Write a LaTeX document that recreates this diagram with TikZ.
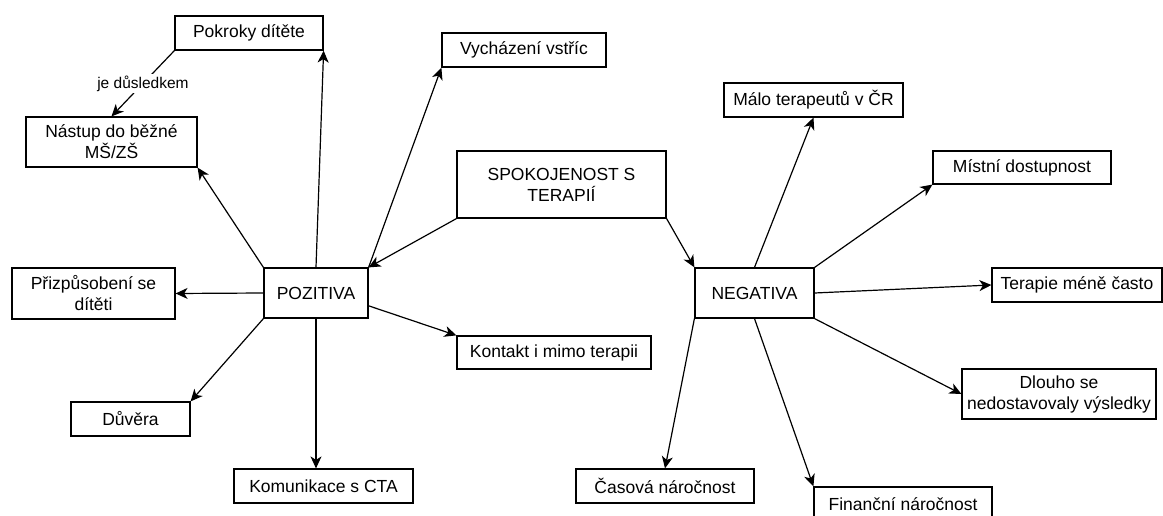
\documentclass[tikz,border=0pt]{standalone}
\usepackage{fontspec}
\setmainfont{Liberation Sans}
\usetikzlibrary{arrows.meta,calc}
\begin{document}
\begin{tikzpicture}[x=1pt,y=-1pt,
  box/.style={draw, line width=1.2pt, inner sep=0pt, align=center,
    font=\fontsize{17.5}{21}\selectfont},
  conn/.style={line width=1.2pt, -{Stealth[length=12pt,width=11pt,inset=3.5pt]}},
  lbl/.style={fill=white, inner sep=1.5pt, font=\fontsize{15.5}{18}\selectfont}]
\useasboundingbox (0,0) rectangle (1163,516);
\clip (0,0) rectangle (1163,516);
% nodes
\node[box, minimum width=148pt, minimum height=34pt] (pok) at (249,33) {Pokroky dítěte};
\node[box, minimum width=171pt, minimum height=50pt] (nas) at (111.5,142) {Nástup do běžné\\MŠ/ZŠ};
\node[box, minimum width=164pt, minimum height=34pt] (vych) at (524,50) {Vycházení vstříc};
\node[box, minimum width=209pt, minimum height=67pt] (spok) at (561.5,184.5) {SPOKOJENOST S\\TERAPIÍ};
\node[box, minimum width=179pt, minimum height=34pt] (malo) at (813.5,100) {Málo terapeutů v ČR};
\node[box, minimum width=178pt, minimum height=33pt] (mis) at (1022,167.5) {Místní dostupnost};
\node[box, minimum width=170pt, minimum height=34pt] (ter) at (1077,285) {Terapie méně často};
\node[box, minimum width=119pt, minimum height=50pt] (neg) at (754.5,293) {NEGATIVA};
\node[box, minimum width=194pt, minimum height=50pt] (dl) at (1059,394) {Dlouho se\\nedostavovaly výsledky};
\node[box, minimum width=178pt, minimum height=34pt] (cas) at (665,486) {Časová náročnost};
\node[box, minimum width=178pt, minimum height=34pt] (fin) at (903,504) {Finanční náročnost};
\node[box, minimum width=194pt, minimum height=33pt] (kont) at (554,352.5) {Kontakt i mimo terapii};
\node[box, minimum width=104pt, minimum height=50pt] (poz) at (316,293) {POZITIVA};
\node[box, minimum width=163pt, minimum height=51pt] (pri) at (93.5,293.5) {Přizpůsobení se\\dítěti};
\node[box, minimum width=119pt, minimum height=34pt] (duv) at (130.5,419) {Důvěra};
\node[box, minimum width=179pt, minimum height=34pt] (kom) at (323.5,486) {Komunikace s CTA};
% connectors
\draw[conn] (pok.south west) -- node[lbl] {je důsledkem} (nas.north);
\draw[conn] (spok.south west) -- (poz.north east);
\draw[conn] (spok.south east) -- (neg.north west);
\draw[conn] (poz.north) -- (pok.south east);
\draw[conn] (poz.north east) -- (vych.south west);
\draw[conn] (poz.north west) -- (nas.south east);
\draw[conn] (poz.west) -- (pri.east);
\draw[conn] (poz.south west) -- (duv.north east);
\draw[conn] (poz.south) -- (poz.south |- kom.north);
\draw[conn] ($(poz.east)!0.5!(poz.south east)$) -- (kont.north west);
\draw[conn] (neg.north) -- (malo.south);
\draw[conn] (neg.north east) -- (mis.south west);
\draw[conn] (neg.east) -- (ter.west);
\draw[conn] (neg.south east) -- (dl.west);
\draw[conn] (neg.south) -- (fin.north west);
\draw[conn] (neg.south west) -- (cas.north);
\end{tikzpicture}
\end{document}
